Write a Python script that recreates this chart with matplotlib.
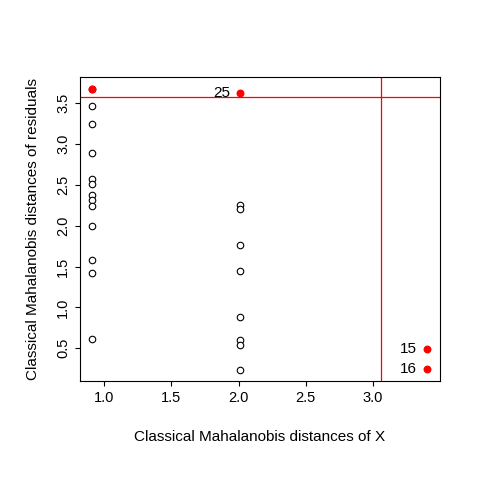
import matplotlib
matplotlib.use("Agg")
import matplotlib.pyplot as plt

# distances
x_vals = [0.91]*13 + [2.01]*8
y_vals = [3.47, 3.25, 2.89, 2.57, 2.51, 2.38, 2.32, 2.24, 2.00, 1.58, 1.42, 0.62, 3.67,
          2.25, 2.21, 1.76, 1.45, 0.88, 0.60, 0.54, 0.23]
out_x = [0.91, 2.01, 3.40, 3.40]
out_y = [3.67, 3.62, 0.49, 0.25]
out_lab = ["", "25", "15", "16"]
cut_x, cut_y = 3.06, 3.57

plt.rcParams['font.family'] = ['Liberation Sans', 'DejaVu Sans']
fig = plt.figure(figsize=(4.8, 4.8), dpi=100)
ax = fig.add_axes([80/480, 1-381/480, 360/480, 304/480])
ax.scatter(x_vals, y_vals, s=22, facecolors='white', edgecolors='black', linewidths=0.8, zorder=3)
ax.scatter(out_x, out_y, s=22, color='red', zorder=4)
for x, y, t in zip(out_x, out_y, out_lab):
    if t:
        ax.text(x - 0.07, y, t, ha='right', va='center', fontsize=11)
ax.axhline(cut_y, color='red', lw=0.9)
ax.axvline(cut_x, color='red', lw=0.9)
ax.set_xlim(0.82, 3.50)
ax.set_ylim(0.10, 3.82)
ax.set_xticks([1.0, 1.5, 2.0, 2.5, 3.0])
ax.set_yticks([0.5, 1.0, 1.5, 2.0, 2.5, 3.0, 3.5])
ax.set_yticklabels(['0.5', '1.0', '1.5', '2.0', '2.5', '3.0', '3.5'], rotation=90, va='center')
ax.tick_params(labelsize=10.5)
ax.set_xlabel("Classical Mahalanobis distances of X", fontsize=11, labelpad=18)
ax.set_ylabel("Classical Mahalanobis distances of residuals", fontsize=11, labelpad=12)
fig.savefig("out.png", dpi=100)
